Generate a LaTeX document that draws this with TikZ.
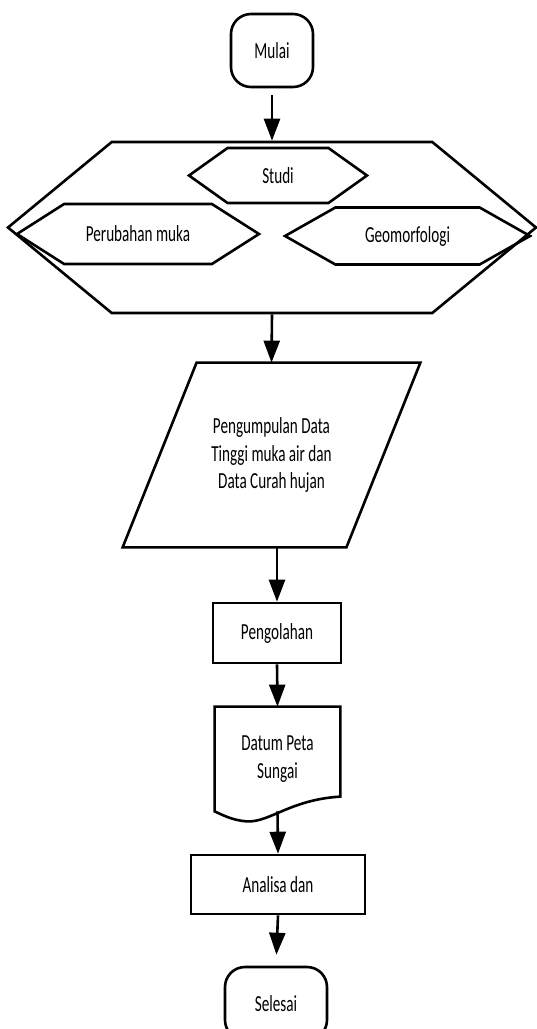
\documentclass[tikz,border=0pt]{standalone}
\usepackage{fontspec}
\setmainfont{Carlito}[FakeStretch=0.66]
\usetikzlibrary{arrows.meta,calc,positioning,shapes.symbols}
\tikzset{arr/.style={-{Triangle[length=11pt,width=8pt]}, line width=1.3pt},
  hexa/.style={draw, line width=1.3pt, signal, signal to=east and west, signal from=nowhere, inner sep=0pt},
  box/.style={draw, line width=1.3pt, align=center, inner sep=0pt},
  term/.style={box, rounded corners=10pt},
  bare/.style={align=center, inner sep=0pt}}

\begin{document}
\begin{tikzpicture}[x=0.5pt, y=-0.5pt, font=\fontsize{11.5}{13.6}\selectfont]
  \useasboundingbox (0,0) rectangle (536,1029);
  % start
  \node[term, minimum width=41pt, minimum height=36.5pt] (mulai) at (272,50.5) {Mulai};
  % study block
  \node[hexa, minimum width=264pt, minimum height=85.5pt, signal pointer angle=79] (studi) at (272,227.5) {};
  \node[hexa, minimum width=89pt, minimum height=27.5pt, signal pointer angle=71] (topik) at (278,175.5) {Studi};
  \node[hexa, minimum width=121pt, minimum height=30pt, signal pointer angle=65] (muka) at (138,234) {Perubahan muka};
  \node[hexa, minimum width=122.5pt, minimum height=28.5pt, signal pointer angle=59] (geo) at (407.5,236) {Geomorfologi};
  \draw[arr, shorten <=3.5pt] (mulai.south) -- (studi.north);
  % data
  \node[bare, minimum width=148.5pt, minimum height=92pt] (data) at (271.5,455)
    {Pengumpulan Data\\Tinggi muka air dan\\ Data Curah hujan};
  \draw[line width=1.3pt] ($(data.north west)+(74,0)$) -- (data.north east)
    -- ($(data.south east)+(-74,0)$) -- (data.south west) -- cycle;
  \draw[arr] (studi.south) -- (data.north);
  % processing
  \node[box, minimum width=64pt, minimum height=30pt] (olah) at (277,633) {Pengolahan};
  \draw[arr] (data.south -| olah.north) -- (olah.north);
  \node[bare, minimum width=62.5pt, minimum height=52pt] (datum) at (277.5,759) {Datum Peta\\Sungai};
  \draw[line width=1.3pt] (datum.south west) -- (datum.north west) -- (datum.north east)
    -- ($(datum.north east)+(0,90)$) .. controls +(-50,3) and +(23,1) .. ($(datum.south)+(-30.5,10)$)
    .. controls +(-15,-1) and +(7,3) .. (datum.south west) -- cycle;
  \draw[arr] (olah.south) -- (datum.north);
  \node[box, minimum width=87pt, minimum height=29.5pt] (analisa) at (278,884.5) {Analisa dan};
  \draw[arr] (datum.south) -- (analisa.north);
  % end
  \node[term, minimum width=51pt, minimum height=36.5pt] (selesai) at (276,1003.5) {Selesai};
  \draw[arr, shorten >=5.5pt] (analisa.south) -- (selesai.north);
\end{tikzpicture}
\end{document}
